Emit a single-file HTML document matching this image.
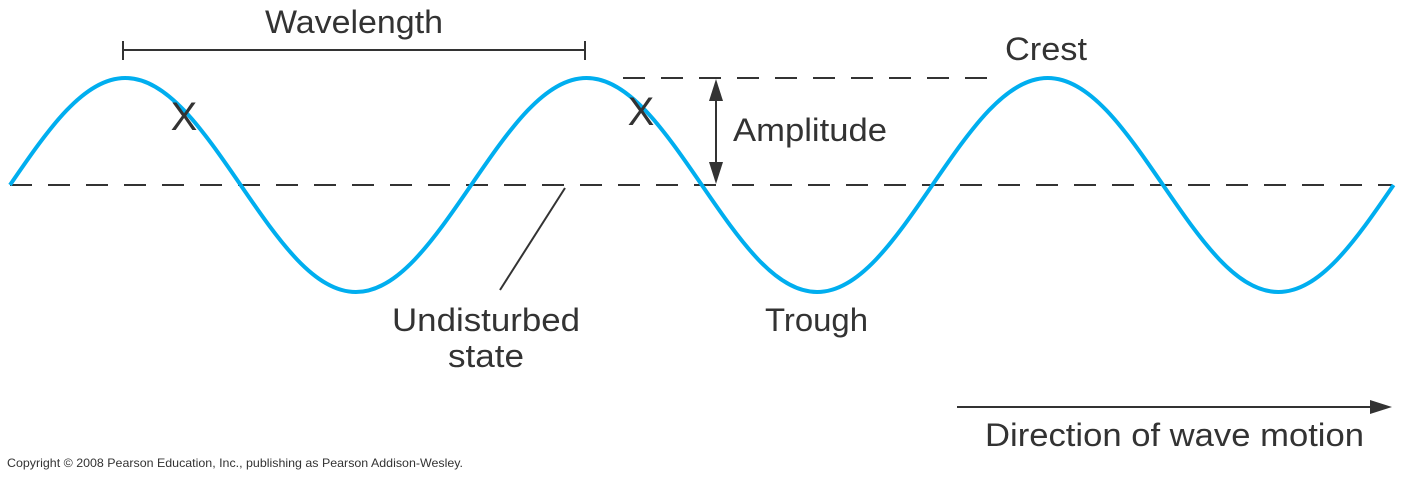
<!DOCTYPE html>
<html><head><style>body{margin:0;background:#fff}svg{display:block}</style></head>
<body>
<svg width="1402" height="479" xmlns="http://www.w3.org/2000/svg" font-family="Liberation Sans, sans-serif" fill="#333">
<g stroke="#333" stroke-width="2" fill="none">
<line x1="10" y1="185" x2="1392" y2="185" stroke-dasharray="22,16"/>
<line x1="623" y1="78" x2="995" y2="78" stroke-dasharray="22,16"/>
<line x1="123" y1="50" x2="585" y2="50"/>
<line x1="123" y1="41" x2="123" y2="60"/>
<line x1="585" y1="41" x2="585" y2="60"/>
<line x1="716" y1="90" x2="716" y2="173"/>
<line x1="500" y1="290" x2="565" y2="188"/>
<line x1="957" y1="407" x2="1375" y2="407"/>
</g>
<polygon points="716,79 709,101 723,101" fill="#333"/>
<polygon points="716,184 709,162 723,162" fill="#333"/>
<polygon points="1392,407 1370,400 1370,414" fill="#333"/>
<path fill="none" stroke="#00aeef" stroke-width="4" d="M10,185
c38.5,-56.2 73.8,-107 115.3,-107 c41.5,0 76.8,50.8 115.3,107
c38.5,56.2 73.8,107 115.3,107 c41.5,0 76.8,-50.8 115.3,-107
c38.5,-56.2 73.8,-107 115.3,-107 c41.5,0 76.8,50.8 115.3,107
c38.5,56.2 73.8,107 115.3,107 c41.5,0 76.8,-50.8 115.3,-107
c38.5,-56.2 73.8,-107 115.3,-107 c41.5,0 76.8,50.8 115.3,107
c38.5,56.2 73.8,107 115.3,107 c41.5,0 76.8,-50.8 115.3,-107"/>
<g font-size="32">
<text x="265" y="33" textLength="178" lengthAdjust="spacingAndGlyphs">Wavelength</text>
<text x="1005" y="60" textLength="82" lengthAdjust="spacingAndGlyphs">Crest</text>
<text x="733" y="141" textLength="154" lengthAdjust="spacingAndGlyphs">Amplitude</text>
<text x="392" y="331" textLength="188" lengthAdjust="spacingAndGlyphs">Undisturbed</text>
<text x="448" y="367" textLength="76" lengthAdjust="spacingAndGlyphs">state</text>
<text x="765" y="331" textLength="103" lengthAdjust="spacingAndGlyphs">Trough</text>
<text x="985" y="446" textLength="379" lengthAdjust="spacingAndGlyphs">Direction of wave motion</text>
</g>
<g font-size="40">
<text x="184" y="130" text-anchor="middle">X</text>
<text x="641" y="125" text-anchor="middle">X</text>
</g>
<text x="7" y="467" font-size="12" textLength="456" lengthAdjust="spacingAndGlyphs">Copyright © 2008 Pearson Education, Inc., publishing as Pearson Addison-Wesley.</text>
</svg>
</body></html>
